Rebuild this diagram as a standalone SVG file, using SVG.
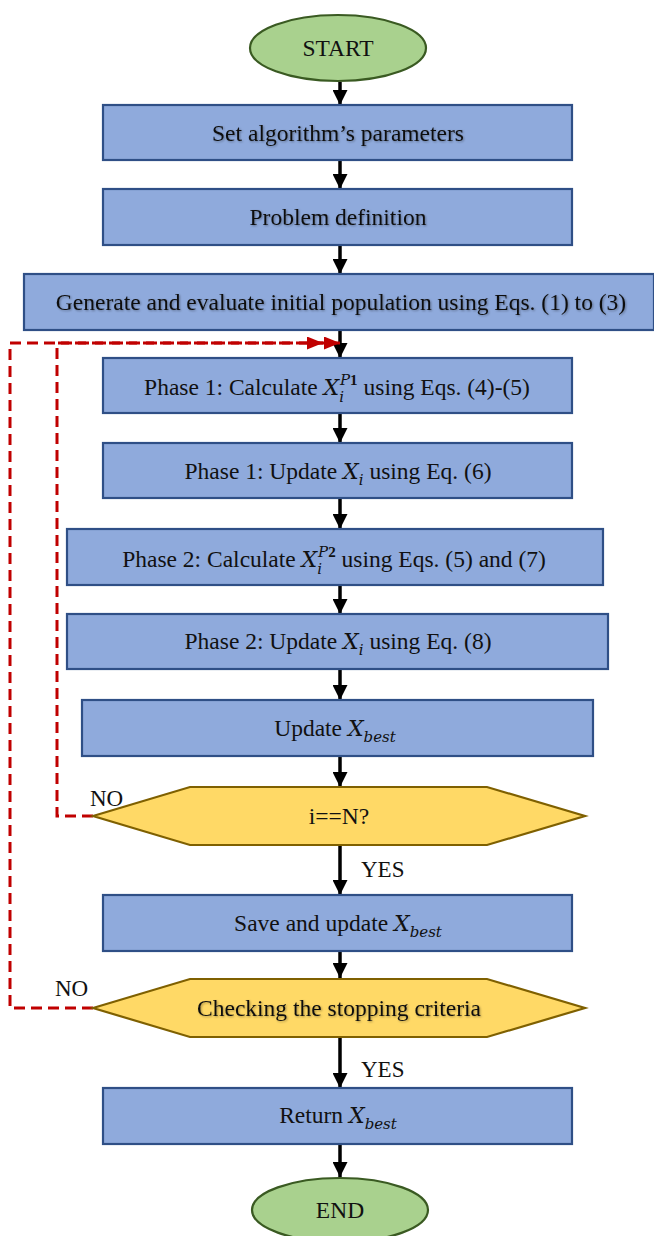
<svg xmlns="http://www.w3.org/2000/svg" width="654" height="1236" viewBox="0 0 654 1236">
<defs>
<style>
.box{fill:#8FAADC;stroke:#2F4F86;stroke-width:2.2}
.term{fill:#A9D18E;stroke:#3A5A22;stroke-width:2.2}
.dec{fill:#FFD966;stroke:#7F6000;stroke-width:2.2}
.t{font-family:"Liberation Serif","Times New Roman",serif;font-size:23.5px;fill:#111;text-anchor:middle}
.lbl{font-family:"Liberation Serif","Times New Roman",serif;font-size:23px;fill:#111}
.m{font-family:"DejaVu Serif","Liberation Serif",serif;font-style:italic;font-size:22px}
.ms{font-family:"DejaVu Serif","Liberation Serif",serif;font-style:italic;font-size:15px}
.flow{stroke:#000;stroke-width:3.5;fill:none;marker-end:url(#ah)}
.loop{stroke:#C00000;stroke-width:3;fill:none;stroke-dasharray:11 6;marker-end:url(#rh)}
</style>
<marker id="ah" viewBox="0 0 10 10" refX="10" refY="5" markerWidth="15" markerHeight="15" markerUnits="userSpaceOnUse" orient="auto">
<path d="M0,0 L10,5 L0,10 z" fill="#000"/>
</marker>
<marker id="rh" viewBox="0 0 10 10" refX="10" refY="5" markerWidth="16" markerHeight="13" markerUnits="userSpaceOnUse" orient="auto" preserveAspectRatio="none">
<path d="M0,0 L10,5 L0,10 z" fill="#C00000"/>
</marker>
<filter id="sh" x="-5%" y="-20%" width="110%" height="140%">
<feDropShadow dx="1" dy="1" stdDeviation="0.8" flood-color="#000" flood-opacity="0.35"/>
</filter>
</defs>

<g id="connectors">
<line class="flow" x1="340" y1="82" x2="340" y2="105"/>
<line class="flow" x1="340" y1="160" x2="340" y2="189"/>
<line class="flow" x1="340" y1="245" x2="340" y2="274"/>
<line class="flow" x1="340" y1="330" x2="340" y2="358"/>
<line class="flow" x1="340" y1="413" x2="340" y2="443"/>
<line class="flow" x1="340" y1="498" x2="340" y2="529"/>
<line class="flow" x1="340" y1="585" x2="340" y2="614"/>
<line class="flow" x1="340" y1="669" x2="340" y2="700"/>
<line class="flow" x1="340" y1="756" x2="340" y2="787"/>
<line class="flow" x1="340" y1="845" x2="340" y2="895"/>
<line class="flow" x1="340" y1="951" x2="340" y2="978"/>
<line class="flow" x1="340" y1="1037" x2="340" y2="1088"/>
<line class="flow" x1="340" y1="1144" x2="340" y2="1177"/>
<polyline class="loop" points="93,1008 10,1008 10,343 340,343"/>
<polyline class="loop" points="93,816 57,816 57,343 323,343"/>
<text class="lbl" x="90" y="806">NO</text>
<text class="lbl" x="55" y="996">NO</text>
<text class="lbl" x="361" y="877">YES</text>
<text class="lbl" x="361" y="1077">YES</text>
</g>

<g id="start">
<ellipse class="term" cx="338" cy="48" rx="88" ry="33"/>
<text class="t" x="338" y="56">START</text>
</g>

<g id="set-params">
<rect class="box" x="103" y="105" width="469" height="55"/>
<text class="t" x="338" y="141" filter="url(#sh)">Set algorithm’s parameters</text>
</g>

<g id="problem-def">
<rect class="box" x="103" y="189" width="469" height="56"/>
<text class="t" x="338" y="225" filter="url(#sh)">Problem definition</text>
</g>

<g id="init-pop">
<rect class="box" x="24" y="274" width="630" height="56"/>
<text class="t" x="341" y="310" filter="url(#sh)">Generate and evaluate initial population using Eqs. (1) to (3)</text>
</g>

<g id="phase1-calc">
<rect class="box" x="103" y="358" width="469" height="55"/>
<text class="t" x="337" y="395">Phase 1: Calculate <tspan class="m">X</tspan><tspan class="ms" dy="7">i</tspan><tspan class="ms" dx="-4" dy="-17">P</tspan><tspan font-size="15" font-weight="bold" dy="0">1</tspan><tspan dy="10"> using Eqs. (4)-(5)</tspan></text>
</g>

<g id="phase1-update">
<rect class="box" x="103" y="443" width="469" height="55"/>
<text class="t" x="338" y="479">Phase 1: Update <tspan class="m">X</tspan><tspan class="ms" dy="6">i</tspan><tspan dy="-6"> using Eq. (6)</tspan></text>
</g>

<g id="phase2-calc">
<rect class="box" x="67" y="529" width="536" height="56"/>
<text class="t" x="334" y="567">Phase 2: Calculate <tspan class="m">X</tspan><tspan class="ms" dy="7">i</tspan><tspan class="ms" dx="-4" dy="-17">P</tspan><tspan font-size="15" font-weight="bold" dy="0">2</tspan><tspan dy="10"> using Eqs. (5) and (7)</tspan></text>
</g>

<g id="phase2-update">
<rect class="box" x="67" y="614" width="541" height="55"/>
<text class="t" x="338" y="649">Phase 2: Update <tspan class="m">X</tspan><tspan class="ms" dy="6">i</tspan><tspan dy="-6"> using Eq. (8)</tspan></text>
</g>

<g id="update-best">
<rect class="box" x="82" y="700" width="511" height="56"/>
<text class="t" x="335" y="736">Update <tspan class="m">X</tspan><tspan class="ms" dy="6">best</tspan></text>
</g>

<g id="check-i">
<polygon class="dec" points="93,816 190,787 487,787 585,816 487,845 190,845"/>
<text class="t" x="339" y="824">i==N?</text>
</g>

<g id="save-best">
<rect class="box" x="103" y="895" width="469" height="56"/>
<text class="t" x="338" y="931">Save and update <tspan class="m">X</tspan><tspan class="ms" dy="6">best</tspan></text>
</g>

<g id="check-stop">
<polygon class="dec" points="93,1008 190,979 487,979 585,1008 487,1037 190,1037"/>
<text class="t" x="339" y="1016" filter="url(#sh)">Checking the stopping criteria</text>
</g>

<g id="return-best">
<rect class="box" x="103" y="1088" width="469" height="56"/>
<text class="t" x="338" y="1123">Return <tspan class="m">X</tspan><tspan class="ms" dy="6">best</tspan></text>
</g>

<g id="end">
<ellipse class="term" cx="340" cy="1210" rx="88" ry="32"/>
<text class="t" x="340" y="1218">END</text>
</g>
</svg>
